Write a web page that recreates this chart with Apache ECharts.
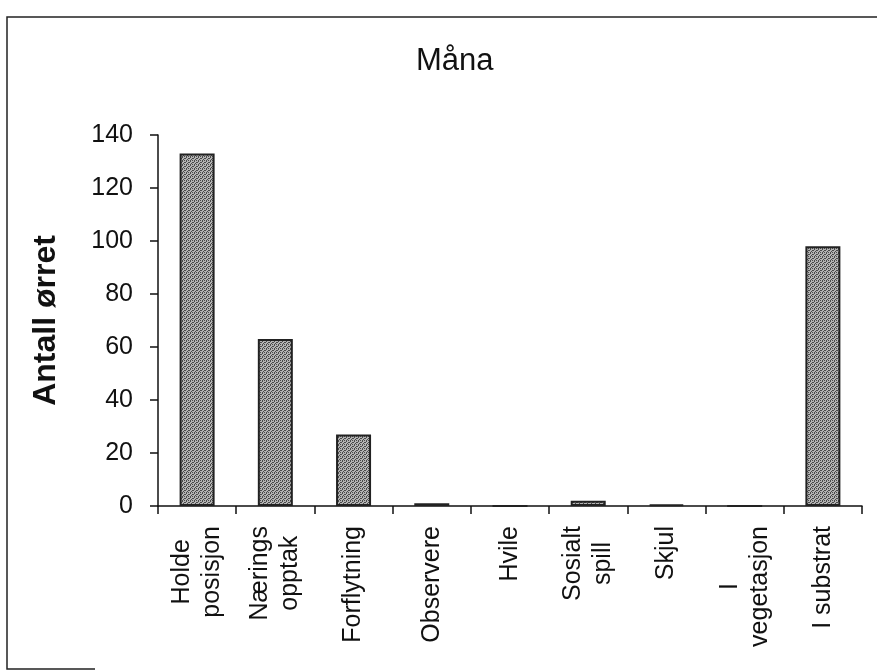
<!DOCTYPE html>
<html>
<head>
<meta charset="utf-8">
<script src="https://cdn.jsdelivr.net/npm/echarts@6/dist/echarts.min.js"></script>
<style>
  html, body { margin: 0; padding: 0; background: #ffffff; }
  #chart { width: 877px; height: 670px; }
</style>
</head>
<body>
<div id="chart"></div>
<script>
// Atferd hos ørret i Måna: antall observasjoner per kategori
const categories = [
  'Holde\nposisjon', 'Nærings\nopptak', 'Forflytning', 'Observere', 'Hvile',
  'Sosialt\nspill', 'Skjul', 'I\nvegetasjon', 'I substrat'
];
const antall = [133, 63, 27, 1, 0, 2, 0.5, 0, 98];
const yTicks = [0, 20, 40, 60, 80, 100, 120, 140];

const FONT = '"Liberation Sans", Arial, Helvetica, sans-serif';

// stippled grey fill for the bars
function stipple() {
  const c = document.createElement('canvas');
  c.width = 4; c.height = 4;
  const g = c.getContext('2d');
  g.fillStyle = '#b4b4b4';
  g.fillRect(0, 0, 4, 4);
  g.fillStyle = '#4a4a4a';
  g.fillRect(0, 0, 1, 1); g.fillRect(2, 1, 1, 1);
  g.fillRect(1, 2, 1, 1); g.fillRect(3, 3, 1, 1);
  g.fillRect(2, 0, 1, 1); g.fillRect(0, 2, 1, 1);
  return c;
}

const chart = echarts.init(document.getElementById('chart'), null, { renderer: 'canvas' });

chart.setOption({
  animation: false,
  backgroundColor: '#ffffff',
  title: {
    text: 'Måna',
    left: 411,
    top: 41,
    textStyle: { fontFamily: FONT, fontSize: 31, fontWeight: 'normal', color: '#111' }
  },
  graphic: [{
    type: 'polyline',
    shape: { points: [[95, 669], [7, 669], [7, 17], [877, 17]] },
    style: { stroke: '#222', lineWidth: 1.5, fill: null },
    silent: true
  }],
  grid: { left: 158, right: 15, top: 135, bottom: 164 },
  xAxis: {
    type: 'category',
    data: categories,
    boundaryGap: true,
    axisLine: { lineStyle: { color: '#111', width: 1.5 } },
    axisTick: { show: true, interval: 0, length: 8, lineStyle: { color: '#111', width: 1.5 } },
    axisLabel: {
      interval: 0,
      rotate: 90,
      margin: 20,
      color: '#111',
      fontFamily: FONT,
      fontSize: 25,
      lineHeight: 30,
      formatter: v => v.split('\n').map(s => '{c|' + s + '}').join('\n'),
      rich: {
        c: { align: 'center', fontFamily: FONT, fontSize: 25, lineHeight: 30, color: '#111' }
      }
    }
  },
  yAxis: {
    type: 'value',
    min: yTicks[0],
    max: yTicks[yTicks.length - 1],
    interval: yTicks[1] - yTicks[0],
    name: 'Antall ørret',
    nameLocation: 'middle',
    nameRotate: 90,
    nameGap: 96,
    nameTextStyle: { fontFamily: FONT, fontSize: 32, fontWeight: 'bold', color: '#111' },
    axisLine: { show: true, lineStyle: { color: '#111', width: 1.5 } },
    axisTick: { show: true, length: 8, lineStyle: { color: '#111', width: 1.5 } },
    axisLabel: { margin: 25, color: '#111', fontFamily: FONT, fontSize: 25 },
    splitLine: { show: false }
  },
  series: [{
    type: 'bar',
    data: antall,
    barWidth: 35,
    itemStyle: {
      color: { image: stipple(), repeat: 'repeat' },
      borderColor: '#222',
      borderWidth: 2
    }
  }]
});
</script>
</body>
</html>
